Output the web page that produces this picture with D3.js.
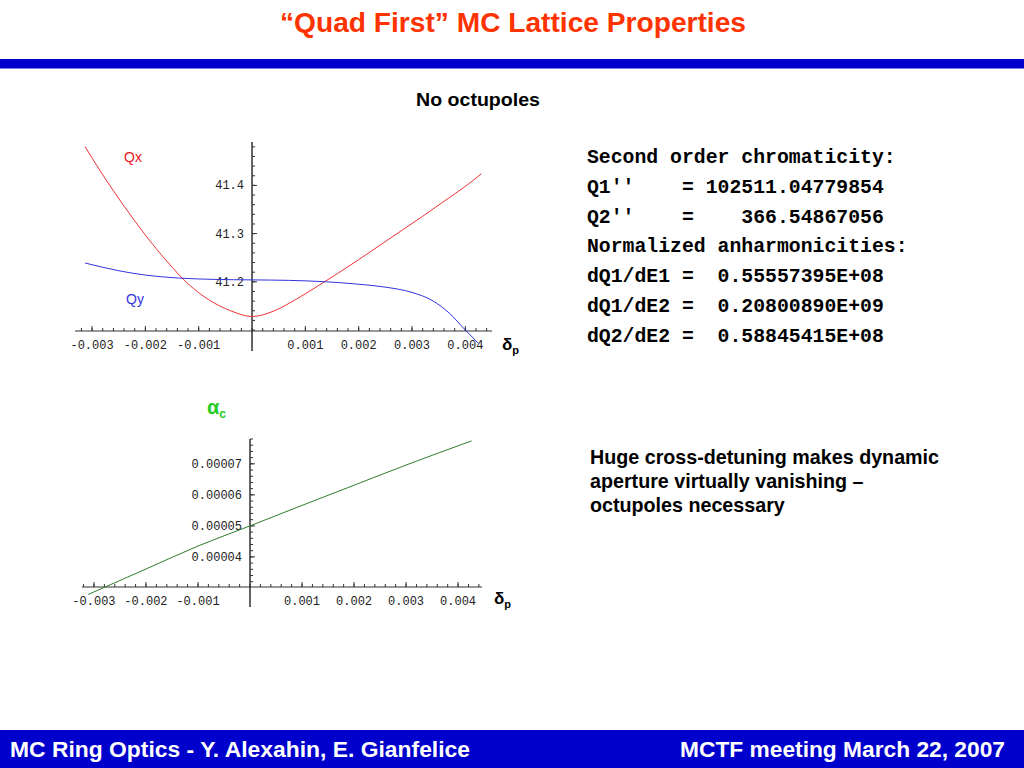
<!DOCTYPE html>
<html>
<head>
<meta charset="utf-8">
<script src="https://cdn.jsdelivr.net/npm/d3@7"></script>
<style>
  body { margin: 0; background: #fff; }
  svg { display: block; }
</style>
</head>
<body>
<div id="slide"></div>
<script>
// tunes vs momentum deviation
const qxDelta = [-0.00313, -0.0028, -0.0024, -0.002, -0.0016, -0.0012, -0.0008, -0.0004, 0, 0.0004, 0.0008, 0.0012, 0.0016, 0.002, 0.0024, 0.0028, 0.0032, 0.0036, 0.004, 0.0043];
const qxValues = [41.480, 41.422, 41.357, 41.297, 41.243, 41.196, 41.162, 41.140, 41.128, 41.139, 41.162, 41.189, 41.217, 41.246, 41.276, 41.306, 41.336, 41.367, 41.398, 41.424];

const qyDelta = [-0.00313, -0.0025, -0.002, -0.0014, -0.0007, 0, 0.0007, 0.0014, 0.002, 0.0025, 0.003, 0.0034, 0.0037, 0.004, 0.00425];
const qyValues = [41.239, 41.223, 41.214, 41.208, 41.205, 41.204, 41.203, 41.200, 41.195, 41.189, 41.178, 41.160, 41.135, 41.100, 41.072];

// momentum compaction vs momentum deviation
const alphaDelta = [-0.00311, -0.002, -0.001, 0, 0.001, 0.002, 0.003, 0.00426];
const alphaValues = [0.0000279, 0.0000361, 0.0000435, 0.0000500, 0.0000566, 0.0000631, 0.0000696, 0.0000774];

const xTicksTop = [-0.003, -0.002, -0.001, 0.001, 0.002, 0.003, 0.004];
const yTicksTop = [41.2, 41.3, 41.4];
const xTicksBottom = [-0.003, -0.002, -0.001, 0.001, 0.002, 0.003, 0.004];
const yTicksBottom = [0.00004, 0.00005, 0.00006, 0.00007];

const textLines = [
    "Second order chromaticity:",
    "Q1''    = 102511.04779854",
    "Q2''    =    366.54867056",
    "Normalized anharmonicities:",
    "dQ1/dE1 =  0.55557395E+08",
    "dQ1/dE2 =  0.20800890E+09",
    "dQ2/dE2 =  0.58845415E+08"
];
const noteLines = [
    "Huge cross-detuning makes dynamic",
    "aperture virtually vanishing \u2013",
    "octupoles necessary"
];

const width = 1024, height = 768;

const svg = d3.select("#slide").append("svg")
    .attr("width", width)
    .attr("height", height);

// title and header bar
svg.append("text")
    .attr("x", 513).attr("y", 32)
    .attr("text-anchor", "middle")
    .attr("font-family", "Liberation Sans, Arial, sans-serif")
    .attr("font-weight", "bold")
    .attr("font-size", 27)
    .attr("fill", "#ff3300")
    .attr("textLength", 466)
    .attr("lengthAdjust", "spacingAndGlyphs")
    .text("\u201CQuad First\u201D MC Lattice Properties");

svg.append("rect")
    .attr("x", 0).attr("y", 59)
    .attr("width", width).attr("height", 9.5)
    .attr("fill", "#0000cc");

svg.append("text")
    .attr("x", 478).attr("y", 106)
    .attr("text-anchor", "middle")
    .attr("font-family", "Liberation Sans, Arial, sans-serif")
    .attr("font-weight", "bold")
    .attr("font-size", 18)
    .attr("textLength", 124)
    .attr("lengthAdjust", "spacingAndGlyphs")
    .text("No octupoles");

// footer
svg.append("rect")
    .attr("x", 0).attr("y", 730)
    .attr("width", width).attr("height", 38)
    .attr("fill", "#0000cc");

svg.append("text")
    .attr("x", 10).attr("y", 757)
    .attr("font-family", "Liberation Sans, Arial, sans-serif")
    .attr("font-weight", "bold")
    .attr("font-size", 22)
    .attr("fill", "#fff")
    .attr("textLength", 460)
    .attr("lengthAdjust", "spacingAndGlyphs")
    .text("MC Ring Optics - Y. Alexahin, E. Gianfelice");

svg.append("text")
    .attr("x", 1005).attr("y", 757)
    .attr("text-anchor", "end")
    .attr("font-family", "Liberation Sans, Arial, sans-serif")
    .attr("font-weight", "bold")
    .attr("font-size", 22)
    .attr("fill", "#fff")
    .attr("textLength", 325)
    .attr("lengthAdjust", "spacingAndGlyphs")
    .text("MCTF meeting March 22, 2007");

// draws mathematica-style axes crossing at the origin
function drawAxes(g, x, y, xMajor, xMinorStep, yMajor, yMinorStep, yFormat) {
    let xr = x.range(), yr = y.range();
    let x0 = x(0);

    let xMinor = d3.range(Math.ceil(x.domain()[0] / xMinorStep), Math.floor(x.domain()[1] / xMinorStep) + 1)
        .map(k => k * xMinorStep);
    let yMinor = d3.range(Math.ceil(y.domain()[0] / yMinorStep), Math.floor(y.domain()[1] / yMinorStep) + 1)
        .map(k => k * yMinorStep);

    // x axis line
    g.append("line")
        .attr("x1", xr[0]).attr("x2", xr[1])
        .attr("y1", yr[0]).attr("y2", yr[0])
        .attr("stroke", "#333").attr("stroke-width", 1.2);

    // minor ticks along x
    g.selectAll(".xminor").data(xMinor).enter().append("line")
        .attr("x1", d => x(d)).attr("x2", d => x(d))
        .attr("y1", yr[0]).attr("y2", yr[0] - 3)
        .attr("stroke", "#333").attr("stroke-width", 1);

    g.selectAll(".xmajor").data(xMajor).enter().append("line")
        .attr("x1", d => x(d)).attr("x2", d => x(d))
        .attr("y1", yr[0]).attr("y2", yr[0] - 5)
        .attr("stroke", "#333").attr("stroke-width", 1);

    g.selectAll(".xlab").data(xMajor).enter().append("text")
        .attr("x", d => x(d)).attr("y", yr[0] + 18)
        .attr("text-anchor", "middle")
        .attr("font-family", "Liberation Mono, Courier New, monospace")
        .attr("font-size", 12)
        .attr("fill", "#222")
        .text(d => d3.format(".3f")(d).replace("\u2212", "-"));

    // y axis line, a bit past the x axis
    g.append("line")
        .attr("x1", x0).attr("x2", x0)
        .attr("y1", yr[1]).attr("y2", yr[0] + 20)
        .attr("stroke", "#222").attr("stroke-width", 1.4);

    g.selectAll(".yminor").data(yMinor).enter().append("line")
        .attr("x1", x0).attr("x2", x0 + 3)
        .attr("y1", d => y(d)).attr("y2", d => y(d))
        .attr("stroke", "#333").attr("stroke-width", 1);

    g.selectAll(".ymajor").data(yMajor).enter().append("line")
        .attr("x1", x0).attr("x2", x0 + 5)
        .attr("y1", d => y(d)).attr("y2", d => y(d))
        .attr("stroke", "#333").attr("stroke-width", 1);

    g.selectAll(".ylab").data(yMajor).enter().append("text")
        .attr("x", x0 - 8).attr("y", d => y(d) + 4)
        .attr("text-anchor", "end")
        .attr("font-family", "Liberation Mono, Courier New, monospace")
        .attr("font-size", 12)
        .attr("fill", "#222")
        .text(yFormat);
}

function deltaLabel(g, x, y) {
    let t = g.append("text")
        .attr("x", x).attr("y", y)
        .attr("font-family", "Liberation Sans, Arial, sans-serif")
        .attr("font-weight", "bold")
        .attr("font-size", 17);
    t.append("tspan").text("\u03B4");
    t.append("tspan").attr("font-size", 11).attr("dy", 4).text("p");
}

// top chart: tunes
let xTop = d3.scaleLinear().domain([-0.00332, 0.0045]).range([75, 492]);
let yTop = d3.scaleLinear().domain([41.098, 41.49]).range([331, 142]);

let gTop = svg.append("g");
drawAxes(gTop, xTop, yTop, xTicksTop, 0.0002, yTicksTop, 0.02, d => d.toFixed(1));

let lineTop = d3.line()
    .x(d => xTop(d[0]))
    .y(d => yTop(d[1]))
    .curve(d3.curveMonotoneX);

gTop.append("path")
    .datum(d3.zip(qxDelta, qxValues))
    .attr("d", lineTop)
    .attr("fill", "none")
    .attr("stroke", "#ee3333")
    .attr("stroke-width", 1);

gTop.append("path")
    .datum(d3.zip(qyDelta, qyValues))
    .attr("d", lineTop)
    .attr("fill", "none")
    .attr("stroke", "#3333dd")
    .attr("stroke-width", 1);

gTop.append("text")
    .attr("x", 124).attr("y", 162)
    .attr("font-family", "Liberation Sans, Arial, sans-serif")
    .attr("font-size", 14)
    .attr("fill", "#e8141e")
    .text("Qx");

gTop.append("text")
    .attr("x", 126).attr("y", 304)
    .attr("font-family", "Liberation Sans, Arial, sans-serif")
    .attr("font-size", 14)
    .attr("fill", "#3333dd")
    .text("Qy");

deltaLabel(gTop, 502, 350);

// bottom chart: momentum compaction
let xBot = d3.scaleLinear().domain([-0.00323, 0.00446]).range([82, 482]);
let yBot = d3.scaleLinear().domain([0.0000303, 0.000078]).range([587, 439]);

let gBot = svg.append("g");
drawAxes(gBot, xBot, yBot, xTicksBottom, 0.0002, yTicksBottom, 0.000002, d => d.toFixed(5));

let lineBot = d3.line()
    .x(d => xBot(d[0]))
    .y(d => yBot(d[1]))
    .curve(d3.curveMonotoneX);

gBot.append("path")
    .datum(d3.zip(alphaDelta, alphaValues))
    .attr("d", lineBot)
    .attr("fill", "none")
    .attr("stroke", "#2e7d2e")
    .attr("stroke-width", 1);

let alphaLabel = gBot.append("text")
    .attr("x", 207).attr("y", 414)
    .attr("font-family", "Liberation Sans, Arial, sans-serif")
    .attr("font-weight", "bold")
    .attr("font-size", 20)
    .attr("fill", "#22cc22");
alphaLabel.append("tspan").text("\u03B1");
alphaLabel.append("tspan").attr("font-size", 12).attr("dy", 4).text("c");

deltaLabel(gBot, 494, 604);

// chromaticity / anharmonicity text
svg.append("g").selectAll("text").data(textLines).enter().append("text")
    .attr("x", 587)
    .attr("y", (d, i) => 163 + i * 29.8)
    .attr("font-family", "Liberation Mono, Courier New, monospace")
    .attr("font-weight", "bold")
    .attr("font-size", 19.8)
    .attr("xml:space", "preserve")
    .style("white-space", "pre")
    .text(d => d);

svg.append("g").selectAll("text").data(noteLines).enter().append("text")
    .attr("x", 590)
    .attr("y", (d, i) => 464 + i * 24)
    .attr("font-family", "Liberation Sans, Arial, sans-serif")
    .attr("font-weight", "bold")
    .attr("font-size", 19.7)
    .text(d => d);
</script>
</body>
</html>
